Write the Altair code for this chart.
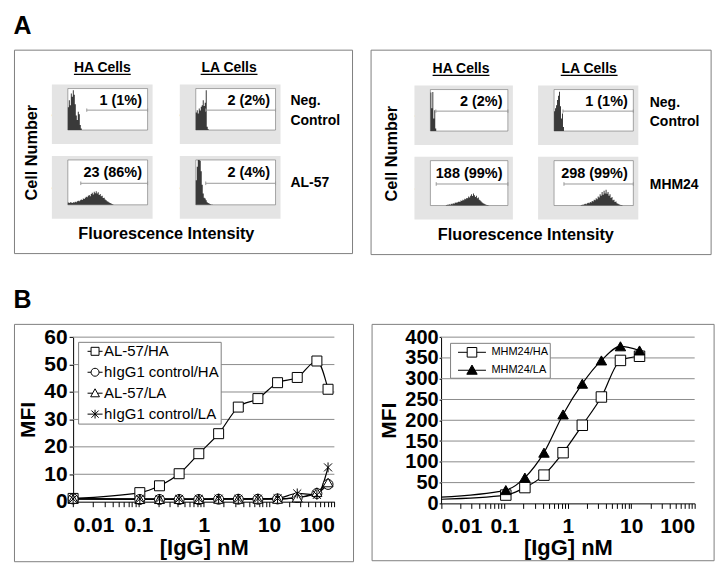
import altair as alt
import pandas as pd

FONT = "Liberation Sans"

# ---------------- Panel A : flow-cytometry histograms ----------------
BIN = 0.05  # width of one histogram bin, in decades of fluorescence
al57_ha_neg = [55, 72, 60, 88, 80, 96, 85, 62, 35, 24, 44, 38, 12, 4]
al57_la_neg = [42, 48, 40, 52, 47, 56, 60, 72, 58, 66, 96, 8, 2]
al57_ha_ab = [5, 4, 6, 5, 4, 6, 5, 7, 6, 8, 9, 8, 10, 12, 11, 14, 13, 16, 18, 17, 20, 22, 19,
              24, 27, 23, 29, 26, 30, 25, 28, 22, 24, 19, 20, 15, 16, 12, 10, 8, 7, 5, 4, 3, 2, 1]
al57_la_ab = [55, 85, 100, 100, 98, 75, 45, 25, 16, 14, 10, 6, 4, 3, 2, 1, 1]
mhm_ha_neg = [93, 55, 94, 30, 50, 6]
mhm_la_neg = [48, 55, 62, 75, 85, 95, 60, 30, 42, 10]
mhm_ha_ab = [1, 2, 2, 3, 2, 4, 3, 5, 4, 6, 7, 6, 8, 9, 8, 11, 10, 13, 12, 15, 14, 17, 16, 20, 18,
             22, 25, 21, 27, 23, 19, 22, 16, 18, 13, 11, 9, 7, 5, 4, 3, 2, 1, 1]
mhm_la_ab = [1, 2, 2, 3, 4, 3, 5, 6, 5, 8, 7, 10, 9, 13, 12, 16, 14, 20, 18, 25, 22, 30, 24, 33,
             27, 35, 26, 30, 22, 25, 17, 19, 12, 13, 8, 9, 5, 4, 3, 2, 1, 1]

al57_hists = [al57_ha_neg, al57_la_neg, al57_ha_ab, al57_la_ab]
al57_starts = [0.0, 0.0, 0.0, 0.0]
al57_gates = [0.95, 0.5, 0.65, 0.5]
al57_labels = ["1 (1%)", "2 (2%)", "23 (86%)", "2 (4%)"]

mhm_hists = [mhm_ha_neg, mhm_la_neg, mhm_ha_ab, mhm_la_ab]
mhm_starts = [0.0, 0.0, 0.8, 1.35]
mhm_gates = [0.28, 0.45, 0.3, 0.5]
mhm_labels = ["2 (2%)", "1 (1%)", "188 (99%)", "298 (99%)"]

GATE_LEVEL = 48
col_headers = ["HA Cells", "LA Cells"]
al57_rows = [["Neg.", "Control"], ["AL-57"]]
mhm_rows = [["Neg.", "Control"], ["MHM24"]]
a_ylabel = "Cell Number"
a_xlabel = "Fluorescence Intensity"

# ---------------- Panel B : MFI titrations ----------------
b1_series = ["AL-57/HA", "hIgG1 control/HA", "AL-57/LA", "hIgG1 control/LA"]
b1_conc = [0.01, 0.105, 0.21, 0.42, 0.84, 1.69, 3.38, 6.75, 13.5, 27, 54, 80]
b1_al57_ha = [1.2, 3.3, 5.8, 10.2, 17.5, 24.8, 34.5, 37.6, 43.4, 45.3, 51.3, 41.0]
b1_higg_ha = [1.0, 0.8, 0.8, 0.8, 0.8, 0.9, 0.9, 0.9, 1.0, 1.5, 3.0, 6.3]
b1_al57_la = [1.0, 0.9, 0.9, 0.9, 0.9, 1.0, 1.0, 1.0, 1.0, 1.5, 3.5, 7.0]
b1_higg_la = [1.0, 1.0, 1.0, 1.0, 1.0, 1.1, 1.0, 1.1, 1.2, 3.0, 2.5, 12.5]

b2_series = ["MHM24/HA", "MHM24/LA"]
b2_conc = [0.01, 0.105, 0.21, 0.42, 0.84, 1.69, 3.38, 6.75, 13.5]
b2_mhm_ha = [10, 20, 38, 68, 122, 188, 256, 344, 354]
b2_mhm_la = [15, 32, 62, 122, 214, 288, 344, 378, 368]

ONE = alt.InlineData(values=[{"k": 0}])


def text_mark(s, x, y, size, weight="bold", align="center", baseline="alphabetic", angle=0):
    return alt.Chart(ONE).mark_text(
        text=s, font=FONT, fontSize=size, fontWeight=weight, align=align,
        baseline=baseline, angle=angle, color="black"
    ).encode(x=alt.value(x), y=alt.value(y))


def rule_mark(xa, xb, y, width=1.3):
    return alt.Chart(ONE).mark_rule(color="black", strokeWidth=width).encode(
        x=alt.value(xa), x2=alt.value(xb), y=alt.value(y))


def hist_panel(counts, start, gate, label, frame, H):
    x0, x1, yt, yb = frame
    xs = alt.Scale(domain=[0, 4], range=[x0, x1], nice=False, zero=False)
    ys = alt.Scale(domain=[0, 100], range=[yb, yt], nice=False, zero=False)
    small = dict(labelFont=FONT, labelFontSize=4.5, labelColor="#666", tickColor="#777",
                 tickSize=1.5, domain=False, labelPadding=1, grid=False,
                 titleFont=FONT, titleFontSize=4.5, titleFontWeight="normal",
                 titleColor="#666", titlePadding=1, labelOverlap=False)
    ax_x = alt.Axis(orient="bottom", offset=yb - H, values=[0, 1, 2, 3, 4],
                    labelExpr="'10' + ['⁰','¹','²','³','⁴'][datum.value]",
                    title="FM1 Fluorescence", **small)
    ax_y = alt.Axis(orient="left", offset=-x0, values=[0, 25, 50, 75, 100],
                    title="Counts", **small)
    dec = [round(start + i * BIN, 4) for i in range(len(counts) + 1)]
    df = pd.DataFrame({"dec": dec, "cnt": list(counts) + [0]})

    bg = alt.Chart(ONE).mark_rect(fill="#e4e4e4").encode(
        x=alt.value(x0 - 16), x2=alt.value(x1 + 5),
        y=alt.value(yt - 4), y2=alt.value(yb + 14))
    box = alt.Chart(ONE).mark_rect(fill="white", stroke="#707070", strokeWidth=0.6).encode(
        x=alt.XDatum(0, type="quantitative", scale=xs, axis=ax_x), x2=alt.datum(4),
        y=alt.YDatum(0, type="quantitative", scale=ys, axis=ax_y), y2=alt.datum(100))
    area = alt.Chart(df).mark_area(interpolate="step-after", color="#3a3a3a").encode(
        x=alt.X("dec:Q", scale=xs, axis=ax_x), y=alt.Y("cnt:Q", scale=ys, axis=ax_y))
    gdf = pd.DataFrame({"g": [gate, 4.0]})
    gline = alt.Chart(pd.DataFrame({"g0": [gate], "g1": [4.0]})).mark_rule(
        color="#9a9a9a", strokeWidth=1).encode(
        x=alt.X("g0:Q", scale=xs, axis=ax_x), x2="g1:Q",
        y=alt.YDatum(GATE_LEVEL, type="quantitative", scale=ys, axis=ax_y))
    gticks = alt.Chart(gdf).mark_rule(color="#9a9a9a", strokeWidth=1).encode(
        x=alt.X("g:Q", scale=xs, axis=ax_x),
        y=alt.YDatum(GATE_LEVEL - 4, type="quantitative", scale=ys, axis=ax_y),
        y2=alt.datum(GATE_LEVEL + 4))
    lab = alt.Chart(ONE).mark_text(
        text=label, font=FONT, fontSize=14.5, fontWeight="bold", align="right",
        baseline="alphabetic", color="black").encode(
        x=alt.XDatum(3.72, type="quantitative", scale=xs, axis=ax_x),
        y=alt.YDatum(61, type="quantitative", scale=ys, axis=ax_y))
    return alt.layer(bg, box, area, gline, gticks, lab)


def box_a(W, H, hists, starts, gates, labels, frames, rows, L):
    layers = [hist_panel(hists[i], starts[i], gates[i], labels[i], frames[i], H) for i in range(4)]
    for cx, name in zip(L["cols"], col_headers):
        layers.append(text_mark(name, cx, L["col_base"], 14))
        layers.append(rule_mark(cx - 28.5, cx + 28.5, L["col_base"] + 2.5))
    layers.append(text_mark(rows[0][0], L["row_x"], L["row_base"][0], 14, align="left"))
    layers.append(text_mark(rows[0][1], L["row_x"], L["row_base"][1], 14, align="left"))
    layers.append(text_mark(rows[1][0], L["row_x"], L["row_base"][2], 14, align="left"))
    layers.append(text_mark(a_ylabel, L["ylab"][0], L["ylab"][1], 16.3, angle=270,
                            baseline="middle"))
    layers.append(text_mark(a_xlabel, L["xlab"][0], L["xlab"][1], 16.3))
    return alt.layer(*layers).resolve_scale(x="independent", y="independent").resolve_axis(
        x="independent", y="independent").properties(width=W, height=H)


def box_b(W, H, xl, xr, yt, yb, ymax, ystep, series, conc, vals, shapes, fills, leg_paths,
          pt_size, skip_first, leg, ytitle_x, ytick, ypad, xlab_pad, xtitle_y, label_size):
    xs = alt.Scale(type="log", domain=[0.01, 100], range=[xl, xr], nice=False)
    ys = alt.Scale(domain=[0, ymax], range=[yb, yt], nice=False, zero=True)
    xticks = [m * 10.0 ** e for e in range(-2, 2) for m in range(1, 10)] + [100.0]
    yticks = list(range(0, ymax + 1, ystep))
    ax_x = alt.Axis(orient="bottom", offset=yb - H, values=xticks,
                    labelExpr="datum.value == 0.01 ? '0.01' : datum.value == 0.1 ? '0.1' : "
                              "datum.value == 1 ? '1' : datum.value == 10 ? '10' : "
                              "datum.value == 100 ? '100' : ''",
                    labelFont=FONT, labelFontSize=21, labelFontWeight="bold", labelColor="black",
                    labelBaseline="alphabetic", labelPadding=xlab_pad, tickSize=5,
                    tickColor="black", domainColor="black", labelOverlap=False, grid=False,
                    title="[IgG] nM", titleFont=FONT, titleFontSize=22, titleFontWeight="bold",
                    titleColor="black", titleBaseline="alphabetic", titleX=(xl + xr) / 2,
                    titleY=xtitle_y)
    ax_y = alt.Axis(orient="left", offset=-xl, values=yticks, labelFont=FONT,
                    labelFontSize=label_size, labelFontWeight="bold", labelColor="black",
                    tickSize=ytick, labelPadding=ypad, tickColor="black", domainColor="black",
                    labelOverlap=False, grid=False, title="MFI", titleFont=FONT,
                    titleFontSize=21, titleFontWeight="bold", titleColor="black",
                    titleAngle=270, titleBaseline="alphabetic", titleX=ytitle_x,
                    titleY=(yb + yt) / 2)
    rows = []
    for s, v in zip(series, vals):
        for c, m in zip(conc, v):
            rows.append({"series": s, "conc": c, "mfi": m})
    df = pd.DataFrame(rows)
    pts = df[df["conc"] > 0.05] if skip_first else df

    grid = alt.Chart(pd.DataFrame({"v": yticks[1:]})).mark_rule(
        color="#8c8c8c", strokeWidth=1).encode(
        y=alt.Y("v:Q", scale=ys, axis=ax_y),
        x=alt.XDatum(0.01, type="quantitative", scale=xs, axis=ax_x), x2=alt.datum(100))
    lines = alt.Chart(df).mark_line(color="black", strokeWidth=1.2, interpolate="monotone").encode(
        x=alt.X("conc:Q", scale=xs, axis=ax_x), y=alt.Y("mfi:Q", scale=ys, axis=ax_y),
        detail="series:N")
    points = alt.Chart(pts).mark_point(filled=True, size=pt_size, stroke="black",
                                       strokeWidth=1, opacity=1).encode(
        x=alt.X("conc:Q", scale=xs, axis=ax_x), y=alt.Y("mfi:Q", scale=ys, axis=ax_y),
        shape=alt.Shape("series:N", scale=alt.Scale(domain=series, range=shapes), legend=None),
        fill=alt.Fill("series:N", scale=alt.Scale(domain=series, range=fills), legend=None))
    lg = alt.Legend(title=None, orient="none", legendX=leg["x"], legendY=leg["y"], padding=1,
                    strokeColor="#808080", fillColor="white", labelFont=FONT,
                    labelFontSize=leg["size"], labelColor="black", rowPadding=leg["row"],
                    symbolOffset=leg["soff"], labelOffset=leg["loff"], symbolSize=256,
                    symbolStrokeWidth=1, symbolStrokeColor="black", labelLimit=0)
    legend_layer = alt.Chart(df).transform_filter("false").mark_point(
        filled=True, size=256, strokeWidth=1, opacity=1).encode(
        x=alt.X("conc:Q", scale=xs, axis=ax_x), y=alt.Y("mfi:Q", scale=ys, axis=ax_y),
        shape=alt.Shape("series:N", scale=alt.Scale(domain=series, range=leg_paths), legend=lg),
        fill=alt.Fill("series:N", scale=alt.Scale(domain=series, range=fills), legend=lg),
        stroke=alt.Stroke("series:N", scale=alt.Scale(domain=series,
                                                      range=["black"] * len(series)),
                          legend=lg))
    return alt.layer(grid, lines, points, legend_layer).resolve_scale(
        shape="independent", fill="independent", stroke="independent").properties(
        width=W, height=H)


# ----- build panels -----
A1 = box_a(339, 204, al57_hists, al57_starts, al57_gates, al57_labels,
           [(54, 134, 39, 80.6), (182.3, 262.3, 39, 80.6),
            (54, 134, 110.6, 155.6), (182.3, 262.3, 110.6, 155.6)],
           al57_rows,
           {"cols": [88.6, 215.7], "col_base": 22.3, "row_x": 277.3,
            "row_base": [55.3, 75.3, 137.3], "ylab": (17.8, 103.3), "xlab": (152.8, 190.3)})
A2 = box_a(341, 205, mhm_hists, mhm_starts, mhm_gates, mhm_labels,
           [(60, 137.7, 40, 81.6), (184, 263.5, 40, 81.6),
            (60, 137.7, 111.3, 156.3), (184, 263.5, 111.3, 156.3)],
           mhm_rows,
           {"cols": [90.7, 219.2], "col_base": 23.3, "row_x": 280,
            "row_base": [57, 77, 139.3], "ylab": (21.2, 104.3), "xlab": (155.7, 191.3)})

ast = "M-0.8,-0.8L0.8,0.8M-0.8,0.8L0.8,-0.8M0,-1V1"
b1_leg_paths = [
    "M-0.94,0H-0.5M0.5,0H0.94M-0.5,-0.5H0.5V0.5H-0.5Z",
    "M-0.94,0H-0.5M0.5,0H0.94M0.5,0A0.5,0.5 0 1,1 -0.5,0A0.5,0.5 0 1,1 0.5,0Z",
    "M-0.94,0H-0.3M0.3,0H0.94M0,-0.55L0.55,0.45H-0.55Z",
    "M-0.94,0H0.94M-0.45,-0.45L0.45,0.45M-0.45,0.45L0.45,-0.45M0,-0.55V0.55",
]
B1 = box_b(340, 238, 59.3, 321.3, 13.3, 178.3, 60, 10, b1_series, b1_conc,
           [b1_al57_ha, b1_higg_ha, b1_al57_la, b1_higg_la],
           ["square", "circle", "triangle-up", ast], ["white"] * 4, b1_leg_paths,
           100, False, {"x": 64.3, "y": 18, "size": 15, "row": 4, "soff": 7.5, "loff": 0.5},
           -39, 4, 2, 25, 53, 21)
b2_leg_paths = [
    "M-1.75,0H-0.6M0.6,0H1.75M-0.6,-0.6H0.6V0.6H-0.6Z",
    "M-1.75,0H1.75M0,-0.65L0.65,0.5H-0.65Z",
]
B2 = box_b(343, 237, 69.7, 324, 13.3, 180, 400, 50, b2_series, b2_conc,
           [b2_mhm_ha, b2_mhm_la], ["square", "triangle-up"], ["white", "black"],
           b2_leg_paths, 110, True,
           {"x": 78.7, "y": 19, "size": 11, "row": 2, "soff": 12.5, "loff": 11},
           -46, 2, 1, 24, 51.5, 20)

title_style = dict(anchor="start", fontSize=25, fontWeight="bold", font=FONT,
                   color="black", offset=10)
rowA = alt.hconcat(A1, A2, spacing=16.6, title=alt.TitleParams("A", **title_style))
rowB = alt.hconcat(B1, B2, spacing=16.6, title=alt.TitleParams("B", **title_style))

chart = alt.vconcat(rowA, rowB, spacing=33).properties(
    padding={"left": 5, "top": 5, "right": 0, "bottom": 0}
).configure(background="white", font=FONT).configure_view(
    stroke="#808080", strokeWidth=1
).configure_axis(grid=False, labelFont=FONT, titleFont=FONT).configure_legend(
    labelFont=FONT
).configure_title(font=FONT, color="black")

chart.save("out.html", embed_options={"renderer": "svg", "actions": False})
